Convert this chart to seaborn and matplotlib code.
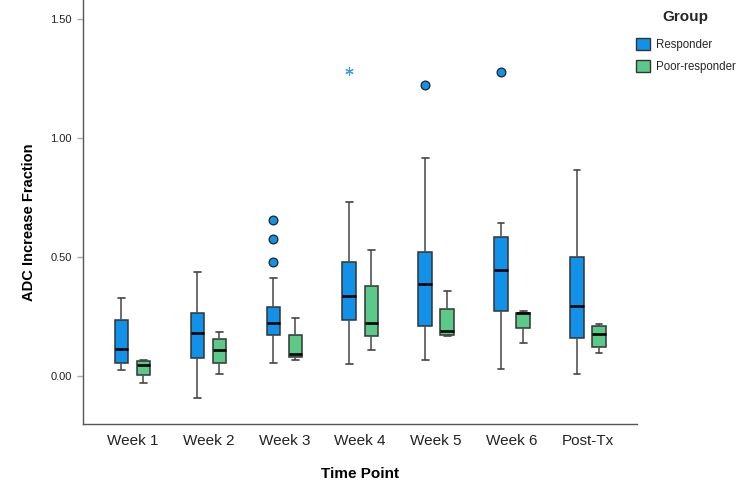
import matplotlib
matplotlib.use("Agg")
import matplotlib.pyplot as plt
from matplotlib.patches import Patch
import seaborn as sns
import pandas as pd

# ---------------- data ----------------
categories = ["Week 1", "Week 2", "Week 3", "Week 4", "Week 5", "Week 6", "Post-Tx"]
groups = ["Responder", "Poor-responder"]

resp_low = [0.026, -0.092, 0.054, 0.050, 0.068, 0.031, 0.008]
resp_q1 = [0.057, 0.077, 0.172, 0.235, 0.211, 0.275, 0.162]
resp_med = [0.113, 0.183, 0.223, 0.339, 0.386, 0.447, 0.295]
resp_q3 = [0.235, 0.268, 0.292, 0.482, 0.521, 0.587, 0.501]
resp_high = [0.329, 0.438, 0.413, 0.732, 0.915, 0.645, 0.865]
resp_outliers = [[], [], [0.482, 0.577, 0.658], [], [1.224], [1.277], []]
resp_extremes = [[], [], [], [1.284], [], [], []]

poor_low = [-0.027, 0.008, 0.070, 0.109, 0.170, 0.140, 0.099]
poor_q1 = [0.004, 0.056, 0.080, 0.168, 0.173, 0.202, 0.124]
poor_med = [0.049, 0.112, 0.093, 0.225, 0.190, 0.264, 0.179]
poor_q3 = [0.065, 0.155, 0.173, 0.378, 0.281, 0.267, 0.212]
poor_high = [0.070, 0.187, 0.243, 0.532, 0.359, 0.274, 0.218]
poor_outliers = [[], [], [], [], [], [], []]

yticks = [0.0, 0.5, 1.0, 1.5]

colors = {"Responder": "#1192e8", "Poor-responder": "#5cc98b"}

# ---------------- long-form table built from the summary values ----------------
stats = {
    "Responder": (resp_low, resp_q1, resp_med, resp_q3, resp_high, resp_outliers),
    "Poor-responder": (poor_low, poor_q1, poor_med, poor_q3, poor_high, poor_outliers),
}
rows = []
for i, cat in enumerate(categories):
    for grp in groups:
        lo, q1, md, q3, hi, outs = stats[grp]
        vals = [lo[i]] + [q1[i]] * 10 + [md[i]] * 10 + [q3[i]] * 10 + [hi[i]] + list(outs[i])
        rows += [(cat, grp, v) for v in vals]
df = pd.DataFrame(rows, columns=["Time Point", "Group", "value"])

# ---------------- figure ----------------
sns.set_theme(style="white")
plt.rcParams["font.family"] = ["Liberation Sans", "DejaVu Sans"]

fig = plt.figure(figsize=(7.5, 5), dpi=100)
ax = fig.add_axes([83 / 750, 1 - 424 / 500, (636.7 - 83) / 750, 424 / 500])

box_width = 0.58
sns.boxplot(
    data=df, x="Time Point", y="value", hue="Group",
    order=categories, hue_order=groups, palette=colors, saturation=1,
    width=box_width, gap=0.39, whis=1.5, linewidth=1.1,
    linecolor="#333333", fliersize=6.3, ax=ax,
    flierprops=dict(marker="o", markerfacecolor=colors["Responder"],
                    markeredgecolor="#222222", markeredgewidth=0.9),
    medianprops=dict(color="black", linewidth=1.9),
    whiskerprops=dict(color="#555555", linewidth=1.2),
    capprops=dict(color="#444444", linewidth=1.2),
    boxprops=dict(edgecolor="#333333", linewidth=1.1),
)

# extreme values (SPSS asterisks) for the Responder group
offset = -box_width / 4
for i, ext in enumerate(resp_extremes):
    for v in ext:
        ax.scatter(i + offset, v, marker=(6, 2, 0), s=30, color="#3a9be6",
                   linewidths=0.8, zorder=5)

ax.set_xlim(-0.65, 6.64)
ax.set_ylim(-0.2, 1.58)
ax.set_yticks(yticks)
ax.set_yticklabels([f"{t:.2f}" for t in yticks])

for s in ["top", "right"]:
    ax.spines[s].set_visible(False)
for s in ["left", "bottom"]:
    ax.spines[s].set_color("#555555")
    ax.spines[s].set_linewidth(1.0)

ax.tick_params(axis="y", left=True, length=4.3, width=1, color="#aaaaaa",
               pad=3.6, labelsize=8, labelcolor="#222222")
ax.tick_params(axis="x", bottom=False, length=0, pad=7, labelsize=11, labelcolor="#222222")

ax.set_xlabel("Time Point", fontsize=11, fontweight="bold", color="black", labelpad=14)
ax.set_ylabel("ADC Increase Fraction", fontsize=10.5, fontweight="bold", color="black")
ax.yaxis.set_label_coords(-0.084, 0.475)

# legend
if ax.get_legend() is not None:
    ax.get_legend().remove()
handles = [Patch(facecolor=colors[g], edgecolor="#333333", linewidth=1.0) for g in groups]
leg = fig.legend(handles, groups, loc="upper left", bbox_to_anchor=(636 / 750, 0.979),
                 frameon=False, title="Group", fontsize=8.3, borderpad=0, borderaxespad=0,
                 handlelength=1.2, handleheight=1.2, handletextpad=0.5, labelspacing=0.75)
leg.get_title().set_fontsize(11)
leg.get_title().set_fontweight("bold")
leg._legend_box.sep = 10

fig.savefig("out.png", dpi=100)
